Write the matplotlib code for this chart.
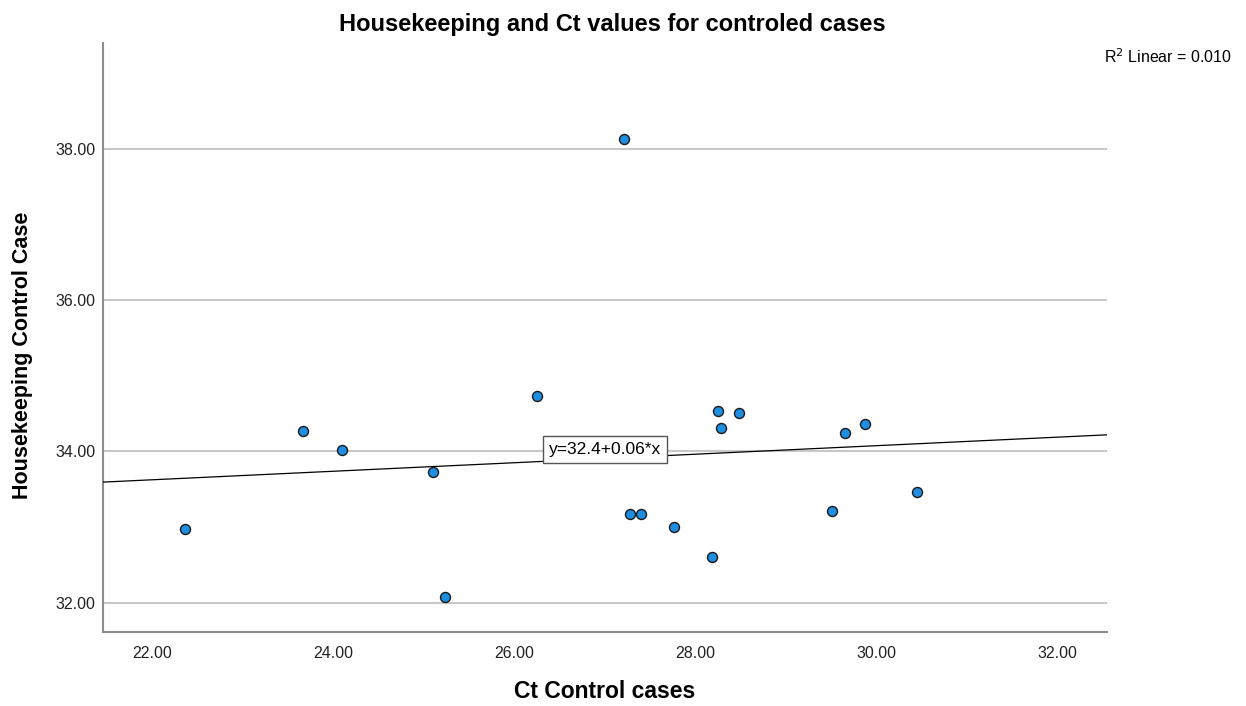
import numpy as np
import matplotlib
matplotlib.use("Agg")
import matplotlib.pyplot as plt

plt.rcParams['font.family'] = ['Liberation Sans', 'DejaVu Sans']

# Data (Ct control cases vs Housekeeping control case)
ct_control = [22.37, 23.67, 24.10, 25.11, 25.24, 26.26, 27.22, 27.28, 27.40,
              27.77, 28.19, 28.26, 28.29, 28.49, 29.51, 29.66, 29.88, 30.45]
housekeeping = [32.97, 34.27, 34.02, 33.73, 32.07, 34.73, 38.12, 33.17, 33.17,
                33.00, 32.60, 34.53, 34.31, 34.51, 33.21, 34.24, 34.36, 33.46]
x_ticks = [22, 24, 26, 28, 30, 32]
y_ticks = [32, 34, 36, 38]
r2_text = "R$^2$ Linear = 0.010"
eq_text = "y=32.4+0.06*x"

W, H = 1246, 706
fig = plt.figure(figsize=(W / 100, H / 100), dpi=100)
ax = fig.add_axes([102.7 / W, 1 - 631.7 / H, (1107 - 102.7) / W, (631.7 - 43.3) / H])

xlim = (21.459, 32.551)
ylim = (31.617, 39.39)
ax.set_xlim(*xlim)
ax.set_ylim(*ylim)

ax.set_yticks(y_ticks)
ax.set_yticklabels([f"{v:.2f}" for v in y_ticks])
ax.set_xticks(x_ticks)
ax.set_xticklabels([f"{v:.2f}" for v in x_ticks])
ax.yaxis.grid(True, color='#c8c8c8', linewidth=1.5)
ax.set_axisbelow(True)
ax.tick_params(axis='both', length=0, labelsize=11.5, colors='#222222', pad=5)
ax.tick_params(axis='x', pad=10)

for s in ['top', 'right']:
    ax.spines[s].set_visible(False)
for s in ['left', 'bottom']:
    ax.spines[s].set_color('#8c8c8c')
    ax.spines[s].set_linewidth(1.5)

# least-squares fit line across the full axis
slope, intercept = np.polyfit(ct_control, housekeeping, 1)
xs = np.array(xlim)
ax.plot(xs, intercept + slope * xs, color='black', linewidth=0.9, zorder=3)

ax.scatter(ct_control, housekeeping, s=52, facecolor='#1f8de0',
           edgecolor='#1a1a1a', linewidth=1.0, zorder=4)

ax.text(0.5, 0.309, eq_text, transform=ax.transAxes, fontsize=12.5,
        ha='center', va='center', zorder=5,
        bbox=dict(boxstyle='square,pad=0.35', facecolor='white',
                  edgecolor='#555555', linewidth=1.0))

fig.text(612 / W, 1 - 25 / H,
         "Housekeeping and Ct values for controled cases",
         fontsize=17, fontweight='bold', ha='center', va='center')
fig.text(605 / W, 1 - 692 / H, "Ct Control cases",
         fontsize=16.5, fontweight='bold', ha='center', va='center')
fig.text(23 / W, 1 - 355 / H, "Housekeeping Control Case", rotation=90,
         fontsize=15.5, fontweight='bold', ha='center', va='center')
fig.text(1232 / W, 1 - 57 / H, r2_text, fontsize=11.5, ha='right', va='center')

fig.savefig("out.png", dpi=100)
